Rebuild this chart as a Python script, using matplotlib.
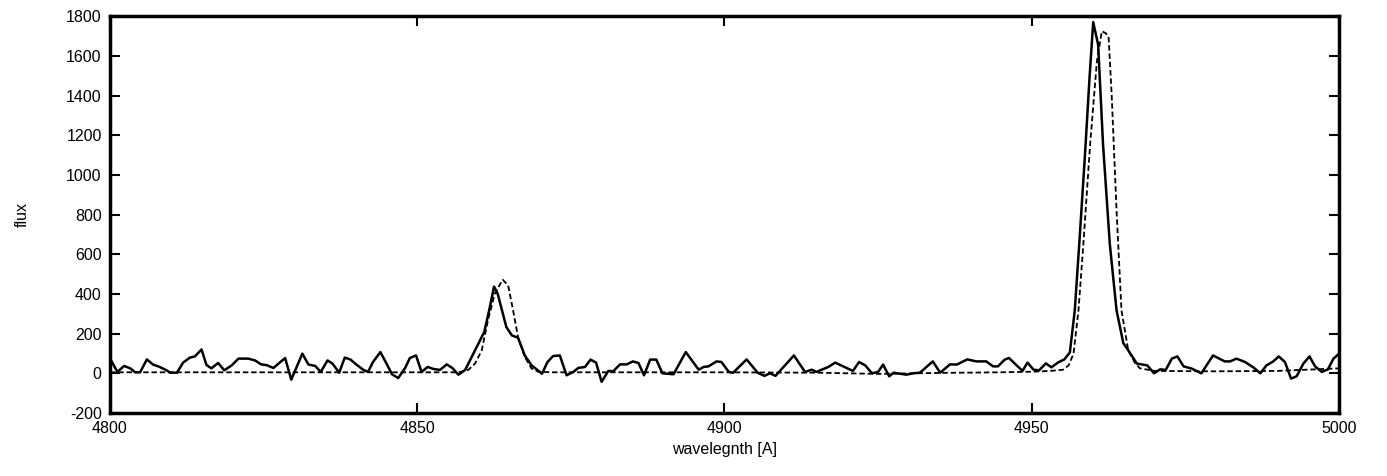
import matplotlib
matplotlib.use("Agg")
from matplotlib import pyplot as plt

# observed spectrum (solid)
wave_obs = [4800.0, 4801.2, 4802.3, 4803.3, 4804.1, 4804.9, 4806.0, 4807.0, 4808.1, 4809.2,
            4809.8, 4810.9, 4811.9, 4813.0, 4813.8, 4814.9, 4815.7, 4816.5, 4817.6, 4818.6,
            4819.8, 4820.9, 4822.5, 4823.6, 4824.6, 4825.5, 4826.6, 4828.5, 4829.5, 4831.3,
            4832.3, 4833.4, 4834.3, 4835.4, 4836.2, 4837.3, 4838.2, 4839.1, 4840.1, 4841.2,
            4842.0, 4842.8, 4844.0, 4845.0, 4845.9, 4846.9, 4848.0, 4848.8, 4849.8, 4850.7,
            4851.7, 4852.6, 4853.7, 4854.8, 4855.7, 4856.7, 4857.8, 4858.9, 4859.9, 4860.9,
            4861.7, 4862.5, 4863.1, 4863.8, 4864.5, 4865.4, 4866.4, 4867.5, 4868.6, 4870.3,
            4871.2, 4872.1, 4873.2, 4874.3, 4875.4, 4876.2, 4877.3, 4878.2, 4879.1, 4880.0,
            4881.1, 4881.9, 4883.0, 4884.1, 4885.1, 4886.0, 4886.9, 4887.9, 4888.9, 4889.9,
            4891.7, 4893.7, 4895.8, 4896.6, 4897.4, 4898.7, 4899.5, 4900.7, 4901.4, 4903.6,
            4905.4, 4906.5, 4907.4, 4908.3, 4911.3, 4913.1, 4914.2, 4915.0, 4915.8, 4916.9,
            4918.0, 4919.5, 4920.9, 4921.9, 4922.9, 4924.0, 4925.0, 4925.8, 4926.8, 4927.5,
            4929.6, 4930.7, 4931.8, 4933.9, 4935.1, 4936.7, 4937.8, 4939.5, 4941.0, 4942.6,
            4943.7, 4944.5, 4945.6, 4946.3, 4947.4, 4948.5, 4949.3, 4950.3, 4951.2, 4952.3,
            4953.2, 4954.3, 4955.3, 4956.2, 4957.0, 4957.8, 4958.7, 4959.4, 4960.0, 4960.8,
            4961.6, 4962.7, 4963.8, 4964.9, 4965.7, 4967.1, 4968.8, 4969.9, 4970.9, 4971.8,
            4972.8, 4973.7, 4974.7, 4976.0, 4977.6, 4979.5, 4981.4, 4982.3, 4983.3, 4984.7,
            4986.1, 4987.2, 4988.2, 4989.3, 4990.2, 4991.2, 4992.2, 4993.1, 4994.2, 4995.2,
            4996.1, 4997.2, 4998.2, 4999.1, 4999.9]
flux_obs = [75, 7, 37, 25, 5, 5, 70, 44, 32, 15,
            3, 3, 54, 79, 85, 120, 42, 25, 52, 15,
            40, 74, 74, 65, 45, 41, 27, 77, -32, 99,
            44, 37, 7, 65, 49, 3, 79, 70, 44, 18,
            7, 57, 107, 49, -5, -24, 25, 77, 90, 7,
            32, 22, 17, 45, 27, -7, 17, 85, 146, 208,
            317, 437, 400, 317, 233, 191, 179, 90, 40, -2,
            57, 87, 90, -10, 7, 27, 32, 69, 54, -43,
            12, 10, 45, 45, 60, 52, -10, 69, 69, 0,
            -5, 107, 18, 32, 35, 60, 57, 7, 3, 70,
            3, -13, 0, -13, 90, 7, 18, 7, 18, 32,
            54, 32, 12, 57, 40, 0, 7, 44, -15, 3,
            -7, 0, 3, 60, 3, 45, 44, 70, 60, 60,
            35, 35, 69, 77, 44, 12, 54, 18, 15, 50,
            30, 55, 70, 105, 317, 685, 1121, 1489, 1770, 1657,
            1154, 652, 317, 152, 116, 49, 40, 0, 20, 17,
            74, 85, 35, 24, 0, 90, 60, 60, 74, 57,
            29, 0, 40, 60, 85, 57, -27, -15, 49, 85,
            35, 7, 20, 74, 96]

# model fit (dashed)
wave_fit = [4800, 4830, 4850, 4855, 4856.7, 4858.3, 4859.4, 4860.5, 4861.5, 4862.6,
            4863.9, 4864.8, 4865.6, 4866.4, 4867.5, 4868.6, 4869.7, 4872, 4900, 4915,
            4925, 4935, 4945, 4950, 4953, 4955.1, 4956.0, 4956.8, 4957.6, 4958.4,
            4959.5, 4960.6, 4961.4, 4962.0, 4962.5, 4963.0, 4963.8, 4964.6, 4965.7, 4966.8,
            4967.6, 4970, 4980, 4990, 5000]
flux_fit = [5, 5, 5, 5, 5, 17, 49, 116, 266, 400,
            472, 442, 317, 182, 82, 24, 8, 5, 5, 3,
            -3, 2, 5, 8, 12, 18, 40, 99, 317, 652,
            1154, 1573, 1724, 1715, 1698, 1407, 819, 317, 116, 52,
            25, 12, 10, 12, 25]

xticks = [4800, 4850, 4900, 4950, 5000]
yticks = [-200, 0, 200, 400, 600, 800, 1000, 1200, 1400, 1600, 1800]

plt.rcParams['font.family'] = ['Liberation Sans', 'DejaVu Sans']
plt.rcParams['axes.unicode_minus'] = False

fig = plt.figure(figsize=(13.87, 4.76), dpi=100)
ax = fig.add_axes([0.0793, 0.1324, 0.8861, 0.8336])

ax.plot(wave_obs, flux_obs, color='black', lw=1.8)
ax.plot(wave_fit, flux_fit, color='black', lw=1.3, linestyle=(0, (3, 1.6)))

ax.set_xlim(4800, 5000)
ax.set_ylim(-200, 1800)
ax.set_xticks(xticks)
ax.set_yticks(yticks)
ax.tick_params(direction='in', length=7, width=1.5, top=True, right=True,
               labelsize=11.5, pad=6)
for s in ax.spines.values():
    s.set_linewidth(2.5)

ax.set_xlabel('wavelegnth [A]', fontsize=11.5, labelpad=4)
ax.set_ylabel('flux', fontsize=11.5, labelpad=26)

fig.savefig('out.png', dpi=100)
